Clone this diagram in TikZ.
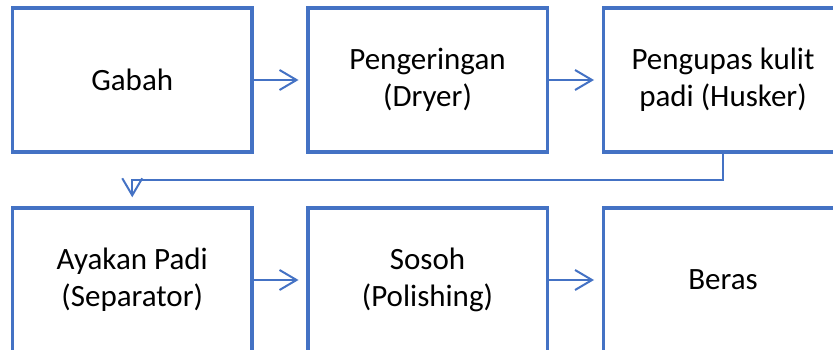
\documentclass[tikz,border=0pt]{standalone}
\usepackage{fontspec}
\setmainfont{Carlito}
\usetikzlibrary{arrows.meta}
\definecolor{obl}{HTML}{4472C4}
\tikzset{
  stepbox/.style={draw=obl, line width=3.5pt, fill=white, minimum width=239.5pt, minimum height=144pt, align=center, font=\fontsize{31}{37}\selectfont, inner sep=0pt},
  conn/.style={draw=obl, line width=2pt, -{Straight Barb[length=17pt,width=20pt,line width=2pt]}}
}
\begin{document}
\begin{tikzpicture}[x=1pt,y=-1pt]
\useasboundingbox (0,0) rectangle (833,350);
\node[stepbox] (b1) at (132.25,80) {Gabah};
\node[stepbox] (b2) at (427.5,80) {Pengeringan\\(Dryer)};
\node[stepbox] (b3) at (723,80) {Pengupas kulit\\padi (Husker)};
\node[stepbox] (b4) at (132.25,280) {Ayakan Padi\\(Separator)};
\node[stepbox] (b5) at (427.5,280) {Sosoh\\(Polishing)};
\node[stepbox] (b6) at (723,280) {Beras};
\draw[conn, shorten >=7.5pt] (b1.east) -- (b2.west);
\draw[conn, shorten >=7.5pt] (b2.east) -- (b3.west);
\draw[conn, shorten >=7.5pt] (b4.east) -- (b5.west);
\draw[conn, shorten >=7.5pt] (b5.east) -- (b6.west);
\coordinate (m1) at (723,180);
\coordinate (m2) at (132.25,180);
\draw[conn, shorten >=9pt] (b3.south) -- (m1) -- (m2) -- (b4.north);
\end{tikzpicture}
\end{document}
